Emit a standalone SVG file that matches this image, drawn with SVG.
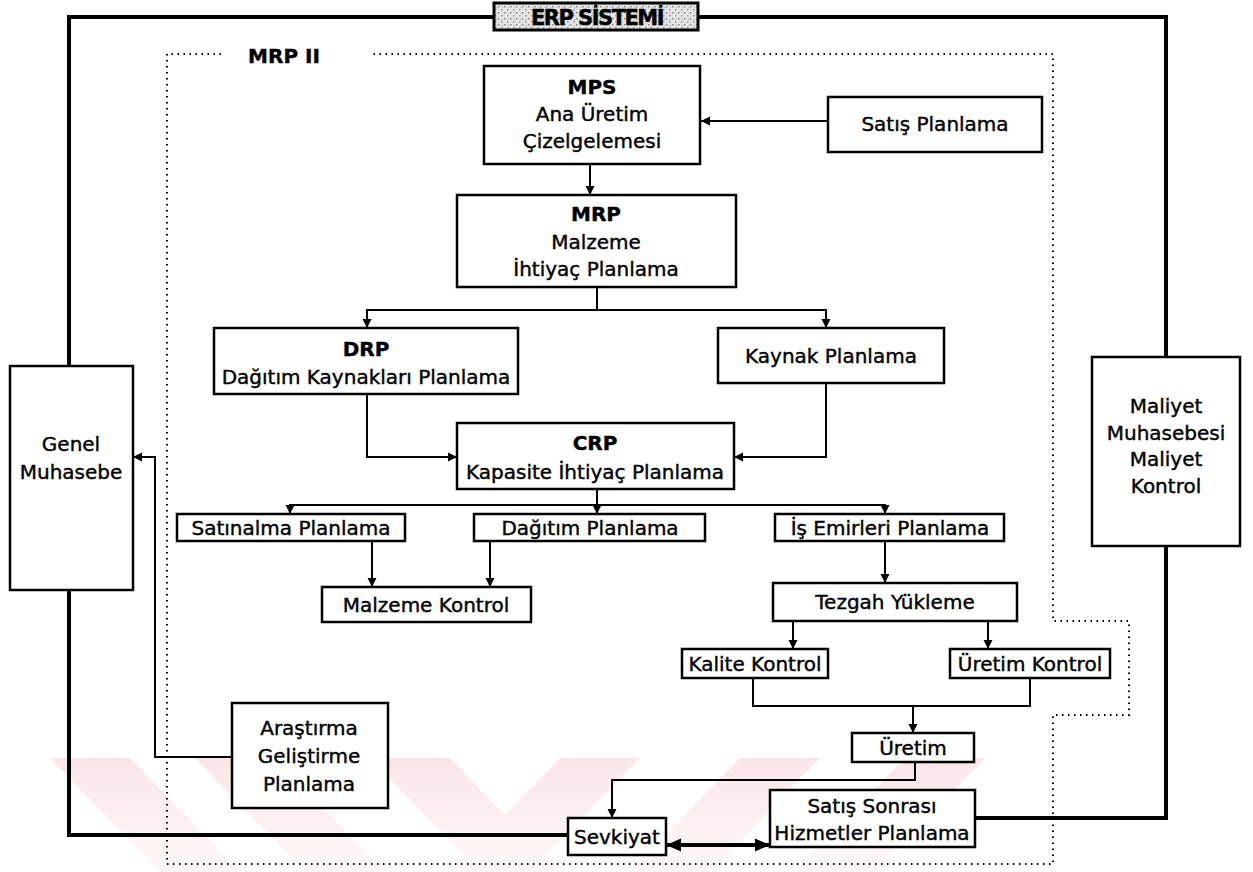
<svg xmlns="http://www.w3.org/2000/svg" width="1253" height="872" viewBox="0 0 1253 872">
  <defs>
    <marker id="arr" markerUnits="userSpaceOnUse" markerWidth="10" markerHeight="10" refX="9" refY="5" orient="auto">
      <path d="M0,0.5 L9,5 L0,9.5 Z" fill="#000"/>
    </marker>
    <marker id="arrBig" markerUnits="userSpaceOnUse" markerWidth="16" markerHeight="14" refX="15" refY="7" orient="auto-start-reverse">
      <path d="M0,0.5 L15,7 L0,13.5 Z" fill="#000"/>
    </marker>
    <pattern id="stipple" width="6" height="6" patternUnits="userSpaceOnUse">
      <rect width="6" height="6" fill="#e4e4e4"/>
      <rect x="0" y="0" width="1.5" height="1.5" fill="#8a8a8a"/>
      <rect x="3" y="3" width="1.5" height="1.5" fill="#9a9a9a"/>
      <rect x="4" y="1" width="1" height="1" fill="#b0b0b0"/>
    </pattern>
    <linearGradient id="wm" x1="0" y1="0" x2="0" y2="1">
      <stop offset="0" stop-color="#f6c9cf"/>
      <stop offset="1" stop-color="#fdf0f2"/>
    </linearGradient>
  </defs>
  <style>
    .box { fill: #fff; stroke: #000; stroke-width: 2.5; }
    .thick { fill: none; stroke: #000; stroke-width: 4; }
    .line { fill: none; stroke: #000; stroke-width: 2; }
    .dots { fill: none; stroke: #000; stroke-width: 2; stroke-dasharray: 1.5 4.5; }
    text { font-family: "DejaVu Sans", Verdana, sans-serif; font-size: 20px; fill: #000; stroke: #000; stroke-width: 0.4; text-anchor: middle; }
    .b { font-weight: bold; }
    .title { font-size: 21px; font-weight: bold; letter-spacing: -1.5px; }
  </style>

  <rect width="1253" height="872" fill="#fff"/>

  <!-- background watermark stripes -->
  <g id="watermark" fill="url(#wm)" opacity="0.45">
    <polygon points="50,758 130,758 240,872 160,872"/>
    <polygon points="195,758 275,758 385,872 305,872"/>
    <polygon points="370,758 450,758 560,872 480,872"/>
    <polygon points="560,758 640,758 530,872 450,872"/>
    <polygon points="740,758 820,758 710,872 630,872"/>
    <polygon points="905,758 985,758 875,872 795,872"/>
  </g>

  <!-- MRP II dotted boundary -->
  <g id="mrp2-frame">
    <path class="dots" d="M221,54 H167 V864 H1053 V715 H1129 V621 H1053 V54 H372"/>
    <text class="b" x="284" y="63" font-size="20">MRP II</text>
  </g>

  <!-- connectors -->
  <g id="connectors">
    <!-- ERP outer frame -->
    <path class="thick" d="M494,17 H69 V366"/>
    <path class="thick" d="M69,590 V835 H568"/>
    <path class="thick" d="M698,17 H1166 V357"/>
    <path class="thick" d="M1166,546 V818 H975"/>

    <path class="line" marker-end="url(#arr)" d="M828,121 H701"/>
    <path class="line" marker-end="url(#arr)" d="M590,164 V195"/>
    <path class="line" d="M597,287 V310 M367,310 H826"/>
    <path class="line" marker-end="url(#arr)" d="M367,309 V328"/>
    <path class="line" marker-end="url(#arr)" d="M826,309 V328"/>
    <path class="line" marker-end="url(#arr)" d="M367,394 V457 H457"/>
    <path class="line" marker-end="url(#arr)" d="M826,383 V457 H734"/>
    <path class="line" d="M597,489 V505 M290,505 H885"/>
    <path class="line" marker-end="url(#arr)" d="M290,504 V514"/>
    <path class="line" marker-end="url(#arr)" d="M597,504 V514"/>
    <path class="line" marker-end="url(#arr)" d="M885,504 V514"/>
    <path class="line" marker-end="url(#arr)" d="M372,541 V587"/>
    <path class="line" marker-end="url(#arr)" d="M490,541 V587"/>
    <path class="line" marker-end="url(#arr)" d="M885,541 V583"/>
    <path class="line" marker-end="url(#arr)" d="M793,621 V649"/>
    <path class="line" marker-end="url(#arr)" d="M988,621 V649"/>
    <path class="line" d="M753,678 V706 H1030 V678"/>
    <path class="line" marker-end="url(#arr)" d="M913,705 V733"/>
    <path class="line" marker-end="url(#arr)" d="M915,762 V780 H612 V818"/>
    <path class="line" marker-end="url(#arr)" d="M232,757 H155 V457 H133"/>
    <path fill="none" stroke="#000" stroke-width="4" marker-start="url(#arrBig)" marker-end="url(#arrBig)" d="M666,845 H770"/>
  </g>

  <g id="erp-title">
    <rect x="494" y="3" width="204" height="27" fill="url(#stipple)" stroke="#000" stroke-width="3"/>
    <text class="title" x="597" y="25" stroke="#fff" stroke-width="3" paint-order="stroke">ERP SİSTEMİ</text>
  </g>

  <g id="mps">
    <rect class="box" x="484" y="66" width="216" height="98"/>
    <text class="b" x="592" y="94">MPS</text>
    <text x="592" y="121">Ana Üretim</text>
    <text x="592" y="148">Çizelgelemesi</text>
  </g>
  <g id="satis-planlama">
    <rect class="box" x="828" y="97" width="214" height="55"/>
    <text x="935" y="131">Satış Planlama</text>
  </g>
  <g id="mrp">
    <rect class="box" x="457" y="195" width="279" height="92"/>
    <text class="b" x="596" y="221">MRP</text>
    <text x="596" y="249">Malzeme</text>
    <text x="596" y="276">İhtiyaç Planlama</text>
  </g>
  <g id="drp">
    <rect class="box" x="214" y="328" width="304" height="66"/>
    <text class="b" x="366" y="356">DRP</text>
    <text x="366" y="384">Dağıtım Kaynakları Planlama</text>
  </g>
  <g id="kaynak">
    <rect class="box" x="718" y="328" width="226" height="55"/>
    <text x="831" y="363">Kaynak Planlama</text>
  </g>
  <g id="crp">
    <rect class="box" x="457" y="423" width="277" height="66"/>
    <text class="b" x="595" y="450">CRP</text>
    <text x="595" y="479">Kapasite İhtiyaç Planlama</text>
  </g>
  <g id="satinalma">
    <rect class="box" x="177" y="514" width="228" height="27"/>
    <text x="291" y="535">Satınalma Planlama</text>
  </g>
  <g id="dagitim">
    <rect class="box" x="474" y="514" width="231" height="27"/>
    <text x="590" y="535">Dağıtım Planlama</text>
  </g>
  <g id="is-emirleri">
    <rect class="box" x="775" y="514" width="229" height="27"/>
    <text x="890" y="535">İş Emirleri Planlama</text>
  </g>
  <g id="malzeme-kontrol">
    <rect class="box" x="322" y="587" width="209" height="35"/>
    <text x="426" y="612">Malzeme Kontrol</text>
  </g>
  <g id="tezgah">
    <rect class="box" x="773" y="583" width="244" height="38"/>
    <text x="895" y="609">Tezgah Yükleme</text>
  </g>
  <g id="kalite">
    <rect class="box" x="682" y="649" width="146" height="29"/>
    <text x="755" y="671">Kalite Kontrol</text>
  </g>
  <g id="uretim-kontrol">
    <rect class="box" x="950" y="649" width="160" height="29"/>
    <text x="1030" y="671">Üretim Kontrol</text>
  </g>
  <g id="uretim">
    <rect class="box" x="852" y="733" width="122" height="29"/>
    <text x="913" y="755">Üretim</text>
  </g>
  <g id="sevkiyat">
    <rect class="box" x="568" y="818" width="98" height="37"/>
    <text x="617" y="844">Sevkiyat</text>
  </g>
  <g id="satis-sonrasi">
    <rect class="box" x="770" y="790" width="205" height="57"/>
    <text x="872" y="813">Satış Sonrası</text>
    <text x="872" y="840">Hizmetler Planlama</text>
  </g>
  <g id="genel-muhasebe">
    <rect class="box" x="10" y="366" width="123" height="224"/>
    <text x="71" y="451">Genel</text>
    <text x="71" y="479">Muhasebe</text>
  </g>
  <g id="arastirma">
    <rect class="box" x="232" y="703" width="156" height="105"/>
    <text x="309" y="735">Araştırma</text>
    <text x="309" y="763">Geliştirme</text>
    <text x="309" y="791">Planlama</text>
  </g>
  <g id="maliyet">
    <rect class="box" x="1092" y="357" width="148" height="189"/>
    <text x="1166" y="413">Maliyet</text>
    <text x="1166" y="440">Muhasebesi</text>
    <text x="1166" y="466">Maliyet</text>
    <text x="1166" y="493">Kontrol</text>
  </g>
</svg>
